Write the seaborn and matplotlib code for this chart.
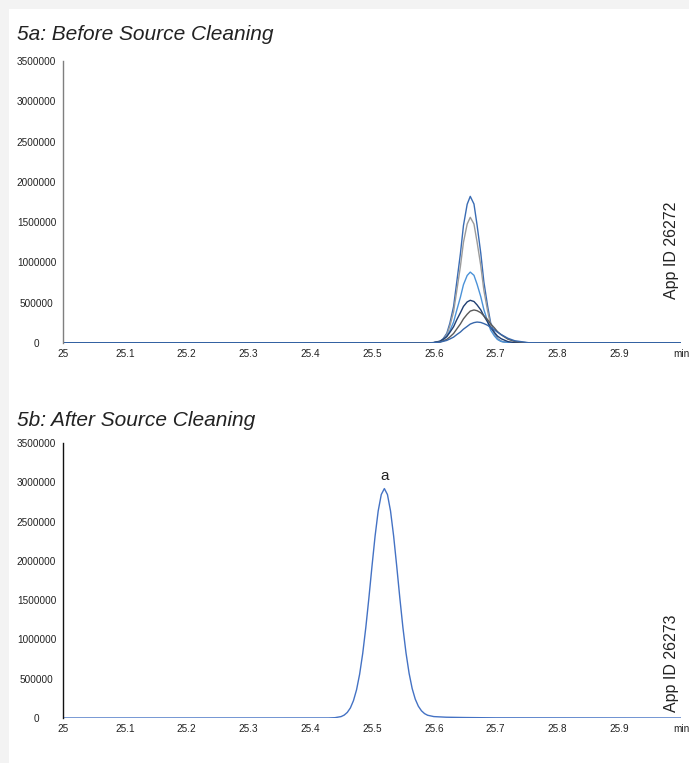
from matplotlib import pyplot as plt
from matplotlib.patches import Rectangle
import pandas as pd
import seaborn as sns
import numpy as np


##### Chromatogram values (retention time in min, abundance)
times_a = [25.00, 25.56, 25.577, 25.588, 25.599, 25.610, 25.615, 25.621, 25.626, 25.632,
           25.637, 25.643, 25.648, 25.654, 25.659, 25.665, 25.670, 25.676, 25.681, 25.687,
           25.692, 25.698, 25.703, 25.709, 25.720, 25.731, 25.753, 25.786, 25.80, 26.00]

run1 = [0, 0, 0, 0, 2000, 20000, 52000, 120000, 246000, 453000,
        748000, 1105000, 1458000, 1722000, 1820000, 1725000, 1465000, 1115000, 760000, 462000,
        250000, 124000, 55000, 22000, 3000, 500, 0, 0, 0, 0]
run2 = [np.nan, 0, 0, 0, 1900, 17000, 45000, 102000, 211000, 388000,
        641000, 947000, 1250000, 1476000, 1560000, 1476000, 1255000, 960000, 655000, 400000,
        220000, 110000, 50000, 20000, 4000, 800, 0, 0, 0, np.nan]
run3 = [0, 0, 0, 300, 2400, 17000, 39000, 80000, 151000, 260000,
        403000, 567000, 724000, 838000, 880000, 840000, 730000, 575000, 415000, 270000,
        160000, 88000, 44000, 20000, 4000, 1000, 0, 0, 0, 0]
run4 = [0, 0, 0, 800, 5000, 23000, 45000, 80000, 132000, 202000,
        286000, 375000, 454000, 510000, 530000, 515000, 473000, 411000, 337000, 261000,
        191000, 132000, 86000, 53000, 17000, 4500, 200, 0, 0, 0]
run5 = [np.nan, 0, 0, 500, 2800, 13000, 25000, 45000, 75000, 118000,
        172000, 236000, 300000, 357000, 396000, 410000, 401000, 376000, 337000, 290000,
        238000, 188000, 142000, 102000, 47000, 18000, 1600, 0, 0, np.nan]
run6 = [0, 0, 150, 800, 3300, 11000, 20000, 32000, 50000, 73000,
        103000, 136000, 172000, 206000, 235000, 253000, 260000, 255000, 241000, 220000,
        193000, 164000, 134000, 105000, 58000, 28000, 4000, 0, 0, 0]

runs_a = [run1, run2, run3, run4, run5, run6]
colors_a = ['#3a6cb4', '#9b9b9b', '#4b92d8', '#203f72', '#5a5a5a', '#3767ab']

times_b = [25.00, 25.43, 25.44, 25.45, 25.455, 25.46, 25.465, 25.47, 25.475, 25.48,
           25.485, 25.49, 25.495, 25.50, 25.505, 25.51, 25.515, 25.52, 25.525, 25.53,
           25.535, 25.54, 25.545, 25.55, 25.555, 25.56, 25.565, 25.57, 25.575, 25.58,
           25.585, 25.59, 25.60, 25.62, 25.65, 25.70, 26.00]
after = [0, 600, 4000, 18000, 37000, 71000, 128000, 221000, 359000, 558000,
         823000, 1153000, 1530000, 1933000, 2316000, 2634000, 2844000, 2920000, 2844000, 2634000,
         2316000, 1933000, 1530000, 1153000, 830000, 570000, 375000, 240000, 150000, 92000,
         56000, 35000, 18000, 10000, 6000, 2000, 0]
peak_b_time = 25.52
peak_b_height = 2920000

y_ticks = [0, 500000, 1000000, 1500000, 2000000, 2500000, 3000000, 3500000]
x_ticks = [25, 25.1, 25.2, 25.3, 25.4, 25.5, 25.6, 25.7, 25.8, 25.9, 26.0]
x_labels = ['25', '25.1', '25.2', '25.3', '25.4', '25.5', '25.6', '25.7', '25.8', '25.9', 'min']


##### Figure setup
sns.set_style('white')
plt.rcParams['font.family'] = ['Liberation Sans', 'DejaVu Sans']

fig = plt.figure(figsize=(6.89, 7.63), dpi=100)
fig.patch.set_facecolor('#f3f3f3')
fig.patches.append(Rectangle((9 / 689, 0), 1, 1 - 9 / 763, transform=fig.transFigure,
                             facecolor='white', edgecolor='none', zorder=-1))

ax1 = fig.add_axes([63 / 689, 1 - 343 / 763, 618 / 689, 282 / 763])
ax2 = fig.add_axes([63 / 689, 1 - 718 / 763, 618 / 689, 275 / 763])


def style_axis(ax, spine_color):
    ax.set_xlim(25, 26)
    ax.set_ylim(0, 3500000)
    ax.set_yticks(y_ticks)
    ax.set_yticklabels([str(v) for v in y_ticks], fontsize=7.2, color='#222222', ha='center')
    ax.set_xticks(x_ticks)
    ax.set_xticklabels(x_labels, fontsize=7.2, color='#222222')
    ax.tick_params(axis='y', length=0, pad=19)
    ax.tick_params(axis='x', length=0, pad=4)
    for s in ['top', 'right', 'bottom']:
        ax.spines[s].set_visible(False)
    ax.spines['left'].set_color(spine_color)
    ax.spines['left'].set_linewidth(1.0)
    ax.set_xlabel('')
    ax.set_ylabel('')
    ax.patch.set_alpha(0)


##### 5a: six overlaid runs before cleaning
for vals, col in zip(runs_a, colors_a):
    df = pd.DataFrame({'Time': times_a, 'Abundance': vals}).dropna()
    sns.lineplot(data=df, x='Time', y='Abundance', ax=ax1, color=col,
                 linewidth=1.0, estimator=None, sort=False)
style_axis(ax1, '#7f7f7f')
ax1.text(0.985, 0.33, 'App ID 26272', transform=ax1.transAxes, rotation=90,
         ha='center', va='center', fontsize=11.5, color='#222222')
fig.text(17 / 689, 1 - 35 / 763, '5a: Before Source Cleaning', fontsize=15,
         style='italic', color='#222222', va='center', ha='left')


##### 5b: single run after cleaning
df_b = pd.DataFrame({'Time': times_b, 'Abundance': after})
sns.lineplot(data=df_b, x='Time', y='Abundance', ax=ax2, color='#4472c4',
             linewidth=1.0, estimator=None, sort=False)
style_axis(ax2, '#111111')
ax2.text(peak_b_time, peak_b_height + 70000, 'a', ha='center', va='bottom',
         fontsize=11, color='#222222')
ax2.text(0.985, 0.2, 'App ID 26273', transform=ax2.transAxes, rotation=90,
         ha='center', va='center', fontsize=11.5, color='#222222')
fig.text(17 / 689, 1 - 420 / 763, '5b: After Source Cleaning', fontsize=15,
         style='italic', color='#222222', va='center', ha='left')

plt.savefig('out.png', dpi=100, facecolor=fig.get_facecolor())
